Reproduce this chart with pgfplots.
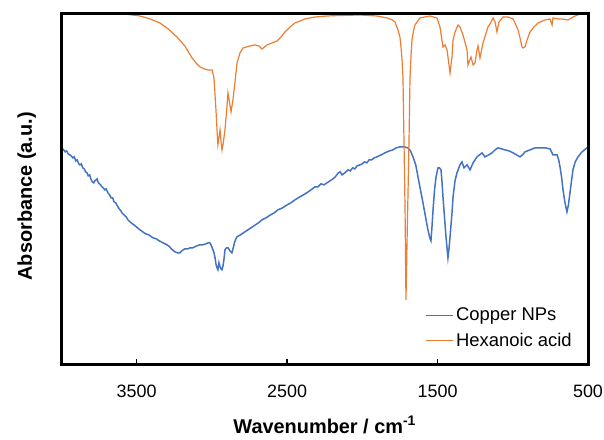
\documentclass[border=0pt]{standalone}
\usepackage{fontspec}
\setmainfont{Liberation Sans}
\usepackage{pgfplots}
\pgfplotsset{compat=1.18}
\usetikzlibrary{calc}
\definecolor{cublue}{HTML}{4472C4}
\definecolor{hexorange}{HTML}{ED7D31}

\begin{document}
\begin{tikzpicture}
\begin{axis}[
  name=ax,
  scale only axis,
  width=527bp, height=351bp,
  at={(0,0)}, anchor=south west,
  xmin=500, xmax=4000, x dir=reverse,
  ymin=0, ymax=351,
  xtick={500,1500,2500,3500},
  ytick=\empty,
  xtick pos=bottom,
  major tick length=6bp,
  tick style={black, line width=1.4bp},
  /pgf/number format/assume math mode=true,
  /pgf/number format/1000 sep={},
  ticklabel style={font=\fontsize{18}{21}\selectfont},
  xticklabel style={yshift=-17bp},
  xlabel={\textbf{Wavenumber / cm\textsuperscript{-1}}},
  ylabel={\textbf{Absorbance (a.u.)}},
  label style={font=\fontsize{20}{24}\selectfont},
  xlabel style={at={(axis description cs:0.5,-0.195)}, anchor=base},
  ylabel style={at={(axis description cs:-0.056,0.48)}, anchor=base},
  legend style={draw=none, fill=none, font=\fontsize{18.5}{21}\selectfont,
    at={(axis description cs:0.979,0.035)}, anchor=south east, row sep=7bp},
  legend cell align=left,
  legend image code/.code={\draw[#1] (0bp,0bp) -- (20bp,0bp); \path (0bp,0bp) -- (27bp,0bp);},
]
\addplot[cublue, line width=1.5bp] coordinates {
(4000,217) (3985,215) (3975,213) (3965,214) (3955,211) (3945,210) (3935,209) (3924,207)
(3915,208) (3905,204) (3895,205) (3885,201) (3877,200) (3868,201) (3858,197) (3848,196)
(3840,193) (3830,192) (3822,189) (3812,190) (3805,186) (3795,183) (3785,182) (3778,184)
(3770,185) (3762,186) (3757,183) (3748,181) (3740,180) (3731,178) (3722,177) (3712,175)
(3703,176) (3691,172) (3680,170) (3670,167) (3660,167) (3650,163) (3640,162) (3628,159)
(3616,156) (3605,154) (3598,152) (3585,150) (3570,148) (3558,145) (3545,143) (3528,141)
(3510,139) (3495,137) (3478,135) (3460,133) (3440,131) (3420,130) (3392,127) (3370,126)
(3350,124) (3325,122) (3299,120) (3280,118) (3270,116) (3255,114) (3245,113) (3230,112)
(3212,112) (3200,114) (3190,115) (3179,116) (3160,116) (3145,117) (3126,117) (3100,119)
(3079,120) (3060,120) (3040,121) (3025,122) (3013,122) (3003,119) (2993,115) (2986,112)
(2979,107) (2972,100) (2966,97) (2960,95) (2953,102) (2946,98) (2940,96) (2933,95)
(2926,99) (2920,105) (2913,115) (2903,117) (2893,117) (2880,114) (2867,112) (2858,117)
(2850,122) (2840,126) (2833,128) (2810,130) (2780,133) (2750,136) (2720,139) (2690,142)
(2667,145) (2640,147) (2610,150) (2585,152) (2561,155) (2530,157) (2500,160) (2475,162)
(2448,165) (2415,168) (2380,171) (2350,174) (2315,178) (2295,178) (2275,181) (2255,180)
(2235,182) (2215,184) (2195,186) (2180,188) (2160,192) (2148,193) (2135,190) (2125,191)
(2110,193) (2095,195) (2080,194) (2065,197) (2050,196) (2035,199) (2016,200) (2000,201)
(1985,203) (1970,202) (1955,205) (1940,205) (1920,207) (1903,208) (1875,210) (1850,212)
(1820,214) (1796,215) (1775,217) (1750,218) (1720,218) (1697,217) (1680,214) (1663,208)
(1645,200) (1630,188) (1615,176) (1597,162) (1580,148) (1564,135) (1550,126) (1544,124)
(1537,138) (1530,155) (1520,175) (1510,188) (1497,197) (1487,197) (1477,195) (1470,182)
(1464,168) (1454,148) (1444,128) (1431,107) (1424,116) (1417,128) (1404,152) (1397,168)
(1384,184) (1371,192) (1351,200) (1338,203) (1324,197) (1304,200) (1284,195) (1264,202)
(1238,208) (1204,212) (1185,208) (1160,210) (1138,212) (1118,215) (1098,217) (1075,216)
(1052,215) (1025,214) (998,212) (975,210) (952,208) (935,210) (919,213) (885,215)
(852,217) (820,217) (786,217) (752,216) (733,210) (706,210) (695,205) (686,198)
(676,188) (666,175) (653,162) (640,153) (630,160) (620,172) (600,195) (585,203)
(566,208) (540,213) (507,217) (500,217)
};
\addlegendentry{Copper NPs}
\addplot[hexorange, line width=1.2bp] coordinates {
(4000,351) (3578,351) (3530,350) (3478,349) (3410,346) (3345,342) (3290,336) (3232,328)
(3180,319) (3132,307) (3100,301) (3079,298) (3050,296) (3026,295) (2999,295) (2986,287)
(2979,270) (2973,255) (2966,235) (2960,220) (2953,227) (2946,235) (2940,225) (2933,215)
(2926,220) (2913,235) (2900,258) (2893,272) (2880,260) (2873,253) (2860,265) (2847,282)
(2833,302) (2813,312) (2793,317) (2747,319) (2714,320) (2687,319) (2667,316) (2634,320)
(2600,322) (2567,324) (2540,328) (2514,333) (2480,338) (2448,342) (2381,346) (2315,348)
(2235,349) (2148,349.5) (2016,350) (1903,349) (1836,347) (1800,345) (1783,343) (1763,335)
(1750,328) (1743,318) (1736,305) (1730,288) (1723,222) (1716,155) (1713,110) (1710,65)
(1706,95) (1703,122) (1696,175) (1690,222) (1683,288) (1676,310) (1670,325) (1660,334)
(1650,340) (1617,347) (1550,349) (1504,347) (1484,338) (1464,318) (1450,320) (1437,315)
(1417,292) (1404,308) (1397,325) (1384,333) (1364,340) (1351,338) (1331,330) (1304,315)
(1298,300) (1278,308) (1264,300) (1251,302) (1238,315) (1231,319) (1218,307) (1198,322)
(1165,338) (1151,341) (1131,347) (1118,343) (1105,333) (1092,343) (1065,348) (1032,348)
(998,346) (985,342) (965,335) (950,326) (939,318) (932,317) (919,318) (905,325)
(885,333) (860,338) (832,342) (786,345) (752,346) (739,340) (733,347) (700,346)
(673,346) (633,345) (586,349) (553,351) (500,351)
};
\addlegendentry{Hexanoic acid}
\end{axis}
\draw[line width=3bp, line cap=rect] (ax.south west) rectangle (ax.north east);
\pgfresetboundingbox
\path ($(ax.south west)+(-61.5bp,-75bp)$) rectangle ($(ax.north east)+(16bp,14bp)$);
\end{tikzpicture}
\end{document}
